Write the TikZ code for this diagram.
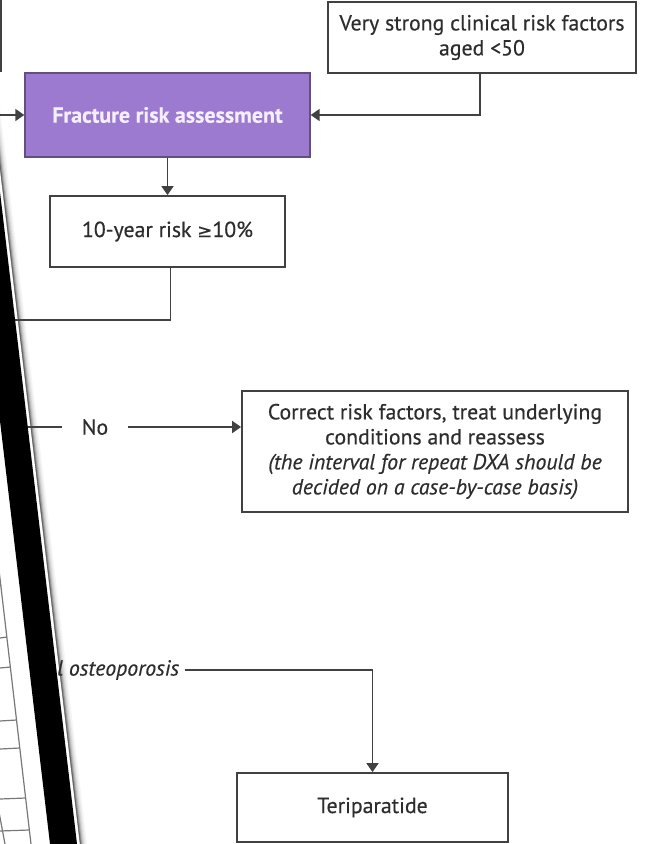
\documentclass[tikz,border=0pt]{standalone}
\usepackage{fontspec}
\setmainfont{PT Sans}[FakeBold=0.35]
\newfontfamily\symfont{DejaVu Sans}[FakeBold=0.35]
\usetikzlibrary{arrows.meta}
\definecolor{purp}{RGB}{155,122,208}
\definecolor{purpedge}{RGB}{95,80,125}
\definecolor{fratext}{RGB}{245,238,255}
\definecolor{ln}{RGB}{65,65,65}
\definecolor{txt}{RGB}{45,45,45}
\definecolor{grid}{RGB}{120,120,120}
\begin{document}
\begin{tikzpicture}[x=1pt,y=-1pt,
  box/.style={draw=ln, line width=1.8pt, fill=white, text=txt, align=center,
    inner sep=0pt, font=\fontsize{21.8}{25}\selectfont},
  conn/.style={draw=ln, line width=1.8pt},
  arr/.style={conn, -{Triangle[length=9pt,width=12pt]}},
  lbl/.style={text=txt, inner sep=0pt, font=\fontsize{21.8}{25}\selectfont},
  gridline/.style={draw=grid, line width=1.2pt}
]
\useasboundingbox (0,0) rectangle (654,844);
\fill[white] (0,0) rectangle (654,844);
\clip (0,0) rectangle (654,844);

% shadow gradient right of the band (drawn first, under the text)
\foreach \o/\c in {7/4,5.5/9,4.2/16,3/26,2/40,1/60} {
  \fill[black!\c] (-40+\o,-170) -- (80+\o,844) -- (80,844) -- (-40,-170) -- cycle;
}
\fill[white] (-40,-170) -- (0,150) -- (0,-170) -- cycle;

% boxes
\node[box, minimum width=308pt, minimum height=71pt] (vs) at (482,37.5)
  {Very strong clinical risk factors\\aged <50};
\node[box, fill=purp, draw=purpedge, line width=1.4pt, text=fratext,
  minimum width=285pt, minimum height=84pt, font=\fontsize{22}{25}\selectfont\bfseries] (fra) at (167.5,115)
  {Fracture risk assessment};
\node[box, minimum width=235pt, minimum height=71pt] (ten) at (167.5,231.5)
  {10-year risk {\symfont\fontsize{18}{20}\selectfont ≥}10\%};
\node[box, minimum width=386pt, minimum height=121pt] (cor) at (435,451.5)
  {Correct risk factors, treat underlying\\conditions and reassess\\
   \itshape (the interval for repeat DXA should be\\
   \itshape decided on a case-by-case basis)};
\node[box, minimum width=271pt, minimum height=69pt] (ter) at (372.5,807.5)
  {Teriparatide};

% labels
\node[lbl, inner xsep=20pt] (no) at (95,427) {No};
\node[lbl, anchor=west, font=\fontsize{21.8}{25}\selectfont\itshape] (ost) at (57,670) {l osteoporosis};

% free ends
\coordinate (leftin) at (0,115);
\coordinate (tenend) at (0,320);
\coordinate (noend) at (5,427);
\coordinate (topl) at (1,0);
\coordinate (topl2) at (1,72);

% connectors
\draw[conn] (topl) -- (topl2);
\draw[arr] (leftin) -- (fra.west);
\draw[arr] ([xshift=-2pt]vs.south) |- (fra.east);
\draw[arr] (fra.south) -- (ten.north);
\draw[conn] ([xshift=3pt]ten.south) |- (tenend);
\draw[conn] (noend) -- (no.west);
\draw[arr] (no.east) -- (no.east -| cor.west);
\draw[arr] ([xshift=6pt]ost.east) -| (ter.north);

% table fragment at lower left
\draw[gridline] (-1,570) -- (31,844);
\draw[gridline] (-1,812) -- (5,844);
\foreach \yy in {585,637,667,720,748,798,830} {
  \draw[gridline] (0,\yy+1) -- ({7+0.116*(\yy-637)},\yy);
}

% black band
\fill[black] (-2,175) -- (77,844) -- (50,844) -- (0,421) -- (-10,421) -- (-10,175) -- cycle;
\end{tikzpicture}
\end{document}
